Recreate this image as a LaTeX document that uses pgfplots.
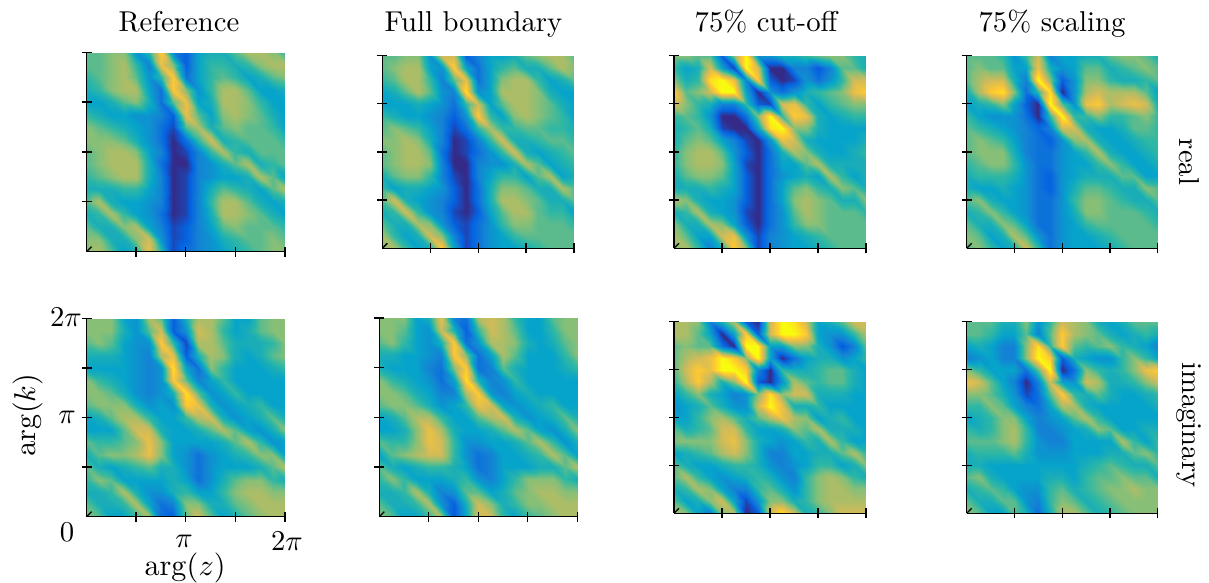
\documentclass[border=0pt]{standalone}
\usepackage{pgfplots}
\pgfplotsset{compat=1.18}
\pgfplotsset{
  colormap={parulaish}{rgb255(0)=(53,42,135) rgb255(1)=(5,98,225) rgb255(2)=(20,130,212) rgb255(3)=(6,164,202) rgb255(4)=(46,183,164) rgb255(5)=(135,191,119) rgb255(6)=(209,187,89) rgb255(7)=(254,200,50) rgb255(8)=(249,251,14)},
  panel/.style={
    scale only axis, anchor=south west, axis on top,
    xmin=0,xmax=6.2832,ymin=0,ymax=6.2832,
    view={0}{90},
    axis x line*=bottom, axis y line*=left,
    axis line style={line width=1.5pt,black,-},
    xtick={1.5708,3.1416,4.7124,6.2832}, ytick={1.5708,3.1416,4.7124,6.2832},
    xticklabels={}, yticklabels={},
    tick align=center, major tick length=10pt,
    tick style={line width=1.3pt,black},
    colormap name=parulaish, point meta min=0, point meta max=8,
  },
  heat/.style={surf,shader=interp,mesh/rows=17,mesh/cols=17,z buffer=reverse y seq,point meta=\thisrow{z}},
  table/grid17/.style={row sep=crcr,
    x expr={6.2832*(\coordindex-17*floor((\coordindex+0.5)/17))/16},
    y expr={6.2832*(1-floor((\coordindex+0.5)/17)/16)},
    z expr=0},
}
\newcommand{\corner}{\draw[line width=1.3pt] ([xshift=-5pt,yshift=-5pt]axis cs:0,0,0) -- ([xshift=5pt,yshift=5pt]axis cs:0,0,0);}
\begin{document}
\begin{tikzpicture}[x=1pt,y=1pt]
\path[use as bounding box] (0,0) rectangle (1209,583);
% ---- real, Reference
\begin{axis}[panel,at={(86.5pt,331.3pt)},width=198.5pt,height=199.4pt]
\addplot3[heat] table[grid17]{z\\
4.5\\4.5\\5\\5\\2.5\\4\\7\\2\\1\\3\\3.5\\3.5\\4.5\\5.5\\5.5\\5\\4\\
4.5\\4.5\\5\\5.5\\4\\2\\6.5\\5\\1\\3\\4\\4\\3.5\\4\\5\\5.5\\5.5\\
4\\4.5\\5\\5.5\\4.5\\2.5\\4\\7\\1.5\\3\\4\\4.5\\4\\3\\3.5\\4.5\\5\\
3.5\\4\\5\\5.5\\5.5\\3\\1.5\\7\\5\\2.5\\4\\5.5\\5.5\\4.5\\3\\3\\3.5\\
3\\3\\3.5\\4.5\\5\\3.5\\1.5\\4.5\\6.5\\3\\3.5\\5.5\\5.5\\5\\4\\3\\3\\
4\\3.5\\3\\3\\2.5\\2.5\\2\\1\\6.5\\4.5\\3\\5\\5.5\\5\\4.5\\3.5\\3\\
5\\4.5\\4\\3.5\\3\\2.5\\1.5\\0.5\\4.5\\5.5\\3.5\\4.5\\5\\4.5\\4.5\\4\\3\\
5\\5\\5\\4.5\\3.5\\2.5\\1.5\\0\\1.5\\4\\6\\3.5\\4\\4.5\\4.5\\4.5\\4\\
4.5\\5\\5.5\\5.5\\5\\3\\2\\0\\0.5\\2\\4\\5.5\\4\\3.5\\4.5\\4.5\\4.5\\
4.5\\5\\5.5\\5.5\\5.5\\3.5\\1.5\\0\\0\\2\\2.5\\3.5\\4.5\\5.5\\3.5\\4\\4.5\\
4\\4.5\\5\\5.5\\5.5\\3.5\\2\\0\\0.5\\2\\2.5\\3\\3\\3.5\\5.5\\4.5\\3\\
3.5\\3.5\\3.5\\4\\4\\3\\2\\0\\0.5\\2\\3.5\\4.5\\4\\3.5\\3\\4.5\\5.5\\
4.5\\5.5\\3.5\\3\\3\\2.5\\2\\0\\0.5\\2\\4\\5.5\\5.5\\4.5\\3.5\\3\\3.5\\
3.5\\4\\5.5\\4\\3\\2.5\\1.5\\0\\0.5\\2\\3.5\\5.5\\5.5\\5\\4.5\\3.5\\3\\
4.5\\3.5\\3.5\\5\\5.5\\3\\2\\0.5\\1\\2\\3\\4.5\\5\\4.5\\4.5\\4.5\\4\\
5\\5\\3.5\\3.5\\5\\6\\2.5\\0.5\\1\\2\\2.5\\3.5\\4\\4.5\\4.5\\5\\4.5\\
5\\5.5\\4.5\\3\\3.5\\6.5\\4\\0.5\\1.5\\2\\2.5\\3\\3.5\\4\\4.5\\5\\5\\
};
\corner
\end{axis}
% ---- real, Full boundary
\begin{axis}[panel,at={(382.3pt,334.7pt)},width=191.7pt,height=192.6pt]
\addplot3[heat] table[grid17]{z\\
4.5\\4.5\\5\\5\\2.5\\6\\6\\1\\2\\3\\3\\3.5\\4.5\\5\\5.5\\5.5\\4.5\\
4.5\\5\\5.5\\5.5\\3\\2.5\\7\\3\\1.5\\3\\4\\4.5\\3.5\\3.5\\4.5\\5.5\\5\\
4\\4.5\\5.5\\5.5\\4\\2\\4.5\\6.5\\1.5\\3\\5\\5.5\\5.5\\4\\3\\3.5\\4.5\\
3\\3.5\\4.5\\5.5\\4.5\\2.5\\2\\7.5\\2.5\\3\\5.5\\5.5\\5.5\\5\\3.5\\3\\3\\
3\\3\\3\\3.5\\3\\2.5\\1.5\\4\\6\\3\\4.5\\5.5\\5.5\\5\\4.5\\3.5\\3\\
4\\3.5\\3\\3\\2.5\\2\\1\\2.5\\7\\4\\3\\5\\5.5\\5\\4.5\\4\\3\\
4.5\\5\\4.5\\4\\3\\2\\0.5\\1.5\\4\\5.5\\4\\4\\4.5\\4.5\\4\\4\\3.5\\
5\\5\\5.5\\5\\3.5\\2\\0\\0.5\\2\\4\\6\\3.5\\3.5\\4\\4.5\\4.5\\4\\
4.5\\5\\5.5\\5.5\\4.5\\1.5\\0\\0.5\\1.5\\2.5\\4\\6\\3.5\\3\\3.5\\4\\4.5\\
4.5\\5\\5.5\\5.5\\5\\2\\0\\0\\2\\2.5\\2.5\\3.5\\5.5\\4.5\\3\\3.5\\4\\
3.5\\4.5\\5\\5\\4\\2\\0.5\\0\\2\\3\\4\\4\\3\\4.5\\5.5\\3\\3.5\\
4\\3\\3.5\\3.5\\3\\2.5\\1\\0\\1.5\\3.5\\5\\5\\4.5\\3.5\\3.5\\5.5\\4.5\\
4.5\\6\\3.5\\3\\2.5\\2\\1\\0\\1.5\\3.5\\5.5\\5.5\\5\\4.5\\3.5\\3.5\\4.5\\
3.5\\4\\6\\4\\2.5\\2\\0.5\\0\\1\\3\\4.5\\5.5\\5.5\\4.5\\4\\4\\3\\
4.5\\3.5\\3.5\\5.5\\5\\2.5\\1\\0.5\\1.5\\2.5\\4\\5\\5\\4.5\\4.5\\4.5\\4\\
5.5\\4\\3\\3.5\\6\\5\\2\\0.5\\1.5\\2.5\\3\\4\\4.5\\4.5\\4.5\\4.5\\4.5\\
5\\5.5\\4\\3\\3.5\\7\\3\\0.5\\1.5\\2.5\\3\\3\\3.5\\4\\4.5\\4.5\\4.5\\
};
\corner
\end{axis}
% ---- real, 75% cut-off
\begin{axis}[panel,at={(674pt,334.7pt)},width=192pt,height=192.6pt]
\addplot3[heat] table[grid17]{z\\
5\\5\\4.5\\4.5\\1\\5\\8\\2.5\\2.5\\3.5\\3.5\\4\\4.5\\5\\5\\4\\3.5\\
4\\3\\3.5\\6\\3\\0.5\\8\\6\\0\\0\\2\\2\\0.8\\2\\4.5\\4.5\\3.5\\
5\\3.5\\4\\7.5\\8\\6.5\\2\\7\\1\\0\\0.5\\2.5\\1.5\\2.5\\4\\6\\6\\
7\\4.5\\5\\6\\8\\8\\3\\0\\2.5\\1.5\\2.5\\3.5\\4\\4.5\\5\\6.5\\7\\
6\\5\\4\\3.5\\2\\2\\4\\1\\0.5\\6\\6.5\\4\\3\\4\\4.5\\5\\5\\
4\\4.5\\4\\2.5\\0\\0\\1.5\\5\\8\\4\\7\\6.5\\3.5\\3\\3.5\\4\\4\\
3.5\\4\\4.5\\3.5\\0.5\\0\\0\\3\\7.5\\8\\5\\5\\3.5\\3\\3\\3\\3\\
3.5\\4.5\\5\\4.5\\3\\2\\0.5\\0\\2.5\\6.5\\6\\3.5\\3\\3\\3\\3\\3.5\\
4\\5\\5.5\\5.5\\4.5\\2.5\\1\\0\\1.5\\3.5\\5.5\\5\\3.5\\3\\3\\3.5\\4\\
4\\5\\5.5\\5.5\\5\\3\\0.5\\0\\1.5\\3\\3\\4.5\\5.5\\3.5\\3.5\\3.5\\3.5\\
3.5\\4.5\\5\\5\\4.5\\3\\1\\0\\1.5\\2.5\\3\\3.5\\3\\5.5\\4\\3\\3.5\\
3.5\\3.5\\3.5\\4\\3.5\\3\\1\\0\\1.5\\3\\4.5\\5\\4\\3.5\\5\\4.5\\3.5\\
5.5\\5\\3.5\\3\\3\\2.5\\1\\0\\1.5\\3\\5\\5.5\\5\\4.5\\3.5\\3.5\\5\\
3.5\\4\\5.5\\3.5\\3\\2.5\\0.5\\0\\1.5\\2.5\\4.5\\5.5\\5\\4.5\\4.5\\4.5\\4\\
5\\3.5\\3.5\\5.5\\5\\3\\1\\0\\1.5\\2.5\\4\\5\\5\\4.5\\4.5\\4.5\\4.5\\
5.5\\4.5\\3\\3\\6\\6.5\\2.5\\0.5\\2\\2.5\\3\\3.5\\4\\4.5\\4.5\\4.5\\4.5\\
5\\5.5\\4\\2\\3.5\\7\\5\\0.5\\2\\2.5\\3\\3\\3.5\\4\\4.5\\4.5\\4.5\\
};
\corner
\end{axis}
% ---- real, 75% scaling
\begin{axis}[panel,at={(966.7pt,334.7pt)},width=191pt,height=192.6pt]
\addplot3[heat] table[grid17]{z\\
4.5\\4.5\\4.5\\4\\2.5\\4\\6\\2\\3\\3\\3.5\\3.5\\4.5\\5\\5\\4.5\\3.5\\
4.5\\5\\4.5\\4.5\\3\\3\\6.5\\3.5\\2.5\\3\\4.5\\4.5\\3.5\\4\\4.5\\5\\4.5\\
4.5\\5.5\\6\\6\\3.5\\2\\8\\5\\1\\2.5\\5\\5\\4\\3.5\\3.5\\4\\4.5\\
3.5\\5.5\\7\\7.5\\5\\1.5\\4\\7.5\\0\\2.5\\5.5\\6\\5.5\\5.5\\5.5\\4.5\\3\\
3\\3.5\\4\\5\\3\\1\\0\\8\\4.5\\2.5\\6.5\\7\\5.5\\6\\6.5\\6\\3.5\\
4\\3\\2.5\\2.5\\2.5\\1.5\\0\\4\\8\\4\\4\\5\\4\\4\\4.5\\5\\4\\
4.5\\4\\3.5\\3\\2.5\\2\\1.2\\2\\6\\6\\3.5\\3\\3\\3.5\\4.5\\4.5\\4\\
4.5\\5\\4.5\\4\\3\\2\\1.5\\1\\2.5\\5\\5.5\\3.5\\3\\3\\3.5\\4\\4\\
4.5\\5\\5\\5\\3.5\\2\\1.5\\1.5\\2.5\\3\\4\\5.5\\3.5\\3\\3\\3.5\\4\\
4\\4.5\\5\\5\\4\\2.5\\1.5\\1.5\\2.5\\3\\3\\4\\5\\4\\3\\3\\3.5\\
3.5\\4\\4\\4\\3.5\\2.5\\1.5\\1\\2.5\\3\\3.5\\3.5\\3.5\\4.5\\4.5\\3\\3\\
3.5\\3\\3\\3.5\\3\\2.5\\1.5\\1\\2.5\\3.5\\4.5\\4.5\\4\\3.5\\3.5\\5\\4.5\\
4.5\\5\\3.5\\3\\3\\2.5\\1.5\\1.5\\2.5\\4\\5\\5\\4.5\\4\\3.5\\3.5\\4.5\\
3.5\\4\\5\\4\\3\\2.5\\1.5\\1.5\\2.5\\3.5\\5\\5\\4.5\\4.5\\4.5\\4\\3.5\\
4.5\\3.5\\3.5\\5\\4.5\\3\\1.5\\1.5\\2.5\\3\\4\\4.5\\4.5\\4.5\\4.5\\4.5\\4\\
5\\4.5\\3\\3.5\\5.5\\4.5\\2.5\\1.5\\2.5\\3\\3\\3.5\\4\\4.5\\4.5\\4.5\\4.5\\
4.5\\5\\4\\3\\3.5\\6\\4\\1.5\\2.5\\3\\3\\3\\3.5\\4\\4.5\\4.5\\4.5\\
};
\corner
\end{axis}
% ---- imaginary, Reference
\begin{axis}[panel,at={(86.5pt,66.3pt)},width=198.5pt,height=198.4pt]
\addplot3[heat] table[grid17]{z\\
5\\5\\5\\3\\2.5\\5.5\\4.5\\1\\3.5\\5.5\\5.5\\4.5\\3\\3\\4.5\\5\\5\\
5\\5\\5\\3.5\\2.5\\4.5\\6\\1\\2.5\\6\\5.5\\4\\3\\3.5\\4.5\\5\\5\\
4.5\\5\\4.5\\3\\2.5\\2.5\\7\\4\\0.5\\5.5\\5.5\\4.5\\3.5\\3.5\\3.5\\4\\5\\
3.5\\3.5\\3.5\\3\\2.5\\2\\5.5\\6.5\\1\\3.5\\5.5\\5\\3.5\\3\\3.5\\4.5\\5\\
3\\3\\3\\3\\2.5\\2\\2.5\\7.5\\3\\1.5\\5\\4\\3\\3\\3\\3.5\\4\\
5\\4\\3.5\\3\\2.5\\2\\2.5\\7\\4.5\\2\\3\\4\\3\\3\\3\\3\\3\\
5\\5\\4.5\\3.5\\2.5\\2\\2.5\\3.5\\7.5\\4.5\\2.5\\3\\4\\3\\3\\3\\3\\
4.5\\5\\5\\5\\3.5\\2.5\\3\\2.5\\7\\6.5\\3.5\\2.5\\3\\3.5\\4\\3\\3\\
3\\3.5\\4.5\\5.5\\5.5\\4\\3\\3\\4\\5.5\\6\\3.5\\2.5\\3\\3.5\\4.5\\3.5\\
3\\3\\3\\4.5\\6\\6\\3.5\\3\\3\\3.5\\4.5\\5.5\\4.5\\3\\2.5\\3.5\\5\\
4.5\\4\\4\\4.5\\5\\6.5\\5\\3\\3\\3\\3\\3.5\\4.5\\5.5\\4\\2.5\\3\\
3.5\\4.5\\5\\5\\5.5\\6.5\\5\\3\\2.5\\1.5\\2.5\\3\\3.5\\4\\5\\5\\3\\
4.5\\3.5\\3\\3.5\\4\\4.5\\3.5\\3.5\\2.5\\1.5\\2.5\\3\\3\\3\\3.5\\4.5\\5.5\\
4\\5\\4.5\\3\\3\\3\\3\\3.5\\3\\1.5\\2.5\\3.5\\4.5\\5\\5\\4\\3.5\\
3.5\\3.5\\4\\5.5\\3.5\\2.5\\2.5\\3.5\\4\\3\\3\\4\\5\\5.5\\5.5\\5\\5\\
4.5\\3.5\\3.5\\4\\5.5\\3\\1.5\\2\\5\\5\\3.5\\3.5\\4.5\\5\\5.5\\5.5\\5.5\\
5\\4.5\\3\\3\\4\\5.5\\1.5\\1\\4.5\\6\\4.5\\3\\3.5\\4.5\\5\\5.5\\5.5\\
};
\corner
\end{axis}
% ---- imaginary, Full boundary
\begin{axis}[panel,at={(379.3pt,66.3pt)},width=198pt,height=198.7pt]
\addplot3[heat] table[grid17]{z\\
5\\5\\5\\3\\3.5\\6.5\\2\\1.5\\5.5\\6\\5.5\\4\\3\\3\\4.5\\5\\5\\
5\\5\\4.5\\3\\2.5\\6\\3.5\\1\\4\\6\\5.5\\4.5\\3\\3\\4\\5\\5\\
4.5\\5\\4\\3\\2.5\\3.5\\7\\1.5\\2.5\\5.5\\5.5\\5\\3.5\\3\\3.5\\4.5\\5\\
3.5\\3.5\\3\\3\\2.5\\2\\7\\5\\1.5\\3\\5.5\\4.5\\3\\3\\3\\4\\5\\
3.5\\3\\3\\3\\2\\1.5\\5\\7\\1.5\\2\\4.5\\3.5\\3\\3\\3\\3.5\\4\\
5\\4\\3.5\\3\\2.5\\1.5\\3\\7.5\\3.5\\2\\2.5\\4\\3\\3\\3\\3\\3\\
5\\5\\4.5\\3.5\\3\\2\\2\\5.5\\7\\2.5\\2\\3\\3.5\\3\\3\\3\\3\\
4.5\\5\\5\\4.5\\3.5\\2.5\\3\\4\\6.5\\6\\3\\2.5\\3\\3.5\\4\\3\\3\\
3\\3.5\\4.5\\5.5\\5.5\\4\\3\\3\\4.5\\5.5\\6\\3.5\\2.5\\3\\3.5\\4.5\\3.5\\
3\\3\\3.5\\5\\6.5\\5.5\\3.5\\3\\3\\3.5\\4.5\\5.5\\4.5\\3\\2.5\\3.5\\5\\
4.5\\4\\4\\5\\6.5\\6\\4\\2.5\\2.5\\3\\3\\3.5\\4.5\\5.5\\4\\2.5\\3.5\\
3\\4.5\\5\\5.5\\6\\6\\4\\2.5\\1.5\\2\\3\\3\\3.5\\4\\5.5\\4.5\\3\\
4.5\\3.5\\3\\3.5\\4\\4\\3.5\\3\\1.5\\2\\3\\3\\3\\3.5\\3.5\\4.5\\5.5\\
4\\5\\4\\3\\3\\3\\3.5\\4\\2.5\\2\\3\\4\\5\\5\\5\\4\\3.5\\
3.5\\3.5\\4\\5.5\\3.5\\2\\2.5\\4.5\\4.5\\3\\3.5\\4.5\\5\\5.5\\5.5\\5\\5\\
4.5\\3.5\\3.5\\4\\5.5\\2.5\\1\\3.5\\6\\5\\3.5\\4\\5\\5\\5.5\\5.5\\5.5\\
5\\4.5\\3\\3\\4\\5.5\\0.8\\3\\6\\6\\4\\3\\4\\4.5\\5\\5.5\\5.5\\
};
\corner
\end{axis}
% ---- imaginary, 75% cut-off
\begin{axis}[panel,at={(674pt,69.7pt)},width=192pt,height=191.6pt]
\addplot3[heat] table[grid17]{z\\
5.5\\5.5\\5\\2\\3.5\\5.5\\1\\0\\6\\8\\7.5\\6\\3\\3.5\\4.5\\6\\6\\
5.5\\5.5\\4.5\\3\\0\\3\\7\\1\\6\\8\\8\\7\\3\\2.5\\2.5\\4\\5.5\\
4.5\\5\\4.5\\4.5\\1.5\\0\\8\\8\\3\\3\\5\\5\\3.5\\2.5\\0.8\\2\\4.5\\
4.5\\5.5\\6\\6.5\\8\\7\\5\\8\\3\\0\\1.5\\3\\3.5\\3.5\\2.5\\3\\4\\
4.5\\6\\7\\6.5\\8\\8\\7\\2\\0\\4\\3.5\\3.5\\4\\4.5\\4.5\\3.5\\3\\
4\\5.5\\7\\5.5\\3.5\\5\\8\\1\\0\\2.5\\5.5\\4.5\\4\\4.5\\4.5\\3.5\\3\\
3\\4\\5\\3.5\\3\\2\\2.5\\5\\7.5\\5\\6\\6\\3.5\\3.5\\3.5\\3\\3\\
2.5\\3\\3.5\\4.5\\3.5\\2.5\\2.5\\6\\8\\6.5\\3.5\\3.5\\4\\3\\3\\3\\3\\
3\\3\\4\\5\\5.5\\4.5\\3.5\\4.5\\5.5\\6.5\\5.5\\5\\3\\3.5\\4\\3\\3\\
4.5\\3.5\\4\\4.5\\6\\6\\4\\3\\3\\3.5\\5\\4.5\\5.5\\3.5\\3.5\\3.5\\3\\
5\\5\\5\\5\\6\\6.5\\5\\3.5\\3\\2.5\\3\\4\\3.5\\5.5\\4\\3\\3\\
3\\3.5\\4\\4.5\\5.5\\6\\5\\3.5\\2\\2\\3\\3\\3.5\\3.5\\4.5\\5.5\\4\\
4.5\\3.5\\3\\3\\3.5\\4\\4\\3.5\\2.5\\2\\2.5\\3\\4\\4\\3\\3.5\\5\\
4.5\\5.5\\4\\3\\2.5\\3\\3.5\\4\\3.5\\2.5\\2\\4\\5\\5.5\\5\\4\\3.5\\
3.5\\4\\5.5\\5\\3\\2\\2\\4\\4.5\\3.5\\2.5\\4\\5\\5.5\\5.5\\5\\5\\
4.5\\3\\3.5\\5\\6\\3\\0.5\\2.5\\5\\5\\3.5\\4\\5\\5.5\\5.5\\5.5\\5.5\\
5.5\\5\\3\\2\\5\\5.5\\0\\1\\6\\7.5\\6\\3.5\\4\\5\\6\\6\\6\\
};
\corner
\end{axis}
% ---- imaginary, 75% scaling
\begin{axis}[panel,at={(966.7pt,69.7pt)},width=191pt,height=191.6pt]
\addplot3[heat] table[grid17]{z\\
4.5\\4.5\\4.5\\3.5\\3.5\\5\\2.5\\4\\6\\5.5\\5\\3.5\\3\\3.5\\4.5\\4.5\\4.5\\
4.5\\4.5\\4\\3\\3\\4.5\\2\\4.5\\7\\5.5\\5\\4.5\\3.5\\3\\3.5\\4\\3.5\\
3\\3.5\\3\\2\\2\\5\\7.5\\4\\7\\4.5\\4\\4.5\\5\\4\\3.5\\3\\2\\
2\\2.5\\3\\2\\2\\5\\8\\7\\1\\3.5\\3\\2.5\\2.5\\4\\5\\4\\3\\
5\\4\\3\\3\\3\\1.5\\4.5\\8\\0\\1.5\\5\\4\\3.5\\4\\5\\6.5\\7\\
6.5\\6\\4.5\\3\\2\\0\\2\\6\\3\\2.5\\6\\5.5\\3.5\\3.5\\4\\5\\6\\
5\\5\\4.5\\3.5\\2.5\\0.5\\1.5\\4.5\\7\\4\\3.5\\4.5\\3.5\\3\\3\\3.5\\4\\
4\\4\\5\\4.5\\3\\2\\1.5\\3\\5.5\\5.5\\3.5\\3\\3\\3\\3\\3\\3.5\\
3\\3.5\\4\\5\\5\\3\\2\\2.5\\3\\4.5\\5.5\\4\\3\\3\\3\\3\\3\\
4\\3.5\\4\\5\\5.5\\4\\2\\2\\2.5\\3\\3.5\\5\\4.5\\3\\3\\3.5\\3.5\\
4.5\\4.5\\4.5\\5\\5.5\\4\\2.5\\2\\2\\3\\3\\3\\3\\5.5\\4\\3\\4\\
3.5\\4\\4\\4\\4.5\\3.5\\2.5\\2.5\\2.5\\3\\3\\3\\3.5\\3.5\\4.5\\5\\4\\
3.5\\3.5\\3\\3\\3\\3\\3\\3\\3\\3\\3.5\\4\\4.5\\4\\3.5\\3.5\\4.5\\
4.5\\5\\3.5\\3\\3\\3\\3\\3.5\\3.5\\3\\4\\4.5\\4.5\\5\\4.5\\4.5\\3.5\\
3.5\\4\\4.5\\4\\3\\2.5\\2.5\\4\\4.5\\3.5\\4\\4.5\\5\\5\\5.5\\5\\5\\
4.5\\3.5\\3.5\\4.5\\4.5\\2.5\\2\\4\\5\\4.5\\3.5\\4\\4.5\\5\\5\\5\\5\\
5\\4.5\\3\\3\\4.5\\3.5\\1.5\\3.5\\5.5\\5.5\\4.5\\3.5\\4\\4.5\\5\\5\\5\\
};
\corner
\end{axis}
% ---- texts
\tikzset{lab/.style={scale=2.87,inner sep=0pt}}
\node[lab,anchor=base] at (179,551) {Reference};
\node[lab,anchor=base] at (473.5,551) {Full boundary};
\node[lab,anchor=base] at (766,551) {75\% cut-off};
\node[lab,anchor=base] at (1052,551) {75\% scaling};
\node[lab,rotate=-90] at (1189,421) {real};
\node[lab,rotate=-90] at (1189,158) {imaginary};
\node[lab] at (66,266) {$2\pi$};
\node[lab] at (67,166) {$\pi$};
\node[lab] at (67,51) {$0$};
\node[lab] at (184,42) {$\pi$};
\node[lab] at (287,42) {$2\pi$};
\node[lab,rotate=90,anchor=base,scale=1.05] at (35,168) {$\arg(k)$};
\node[lab,scale=1.05] at (185,15) {$\arg(z)$};
\end{tikzpicture}
\end{document}
